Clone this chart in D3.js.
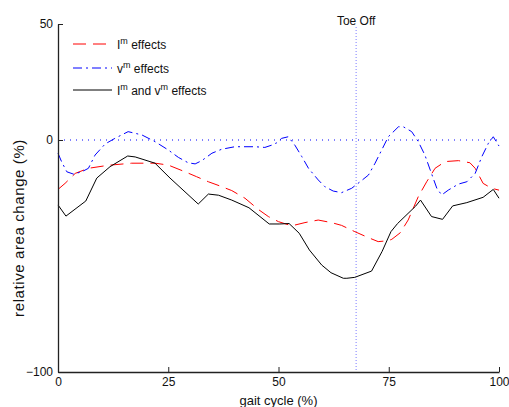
<!DOCTYPE html>
<html>
<head>
<meta charset="utf-8">
<script src="https://cdn.jsdelivr.net/npm/d3@7"></script>
<style>
  body { margin: 0; background: #fff; }
  text { font-family: "Liberation Sans", Arial, sans-serif; }
</style>
</head>
<body>
<div id="chart"></div>
<script>
// gait cycle (%) and relative area change (%)
var gaitIm = [0, 1.6, 3.9, 6.9, 11.4, 16.7, 22, 25, 28.8, 31.4, 34.1, 36.7, 39.4, 42.4, 45.4, 47.7, 50, 53, 56, 59, 62, 64.3, 67.3, 70.4, 72.6, 74.9, 75.7, 77.6, 79.4, 81.7, 83.6, 85.5, 87.8, 90.8, 93.4, 94.6, 96.4, 98.3, 100];
var areaIm = [-21.3, -18.7, -14.4, -12.2, -10.9, -10, -10, -10.8, -13.7, -15.8, -18, -19.8, -21.8, -25.1, -29.9, -33, -35.2, -37, -35.6, -34.5, -35.6, -36.8, -39.5, -42.1, -43.8, -43.4, -42.8, -40, -34.5, -24.4, -18, -12.2, -9.3, -8.9, -9.8, -12.2, -18.7, -20.8, -21.6];

var gaitVm = [0, 0.8, 2, 3.5, 5.4, 6.9, 8.4, 10.7, 12.9, 15.9, 19, 22, 25, 27.3, 29.5, 31.1, 32.6, 34.9, 37.1, 40.1, 44.7, 46.9, 48.5, 49.6, 50.7, 52.2, 53.7, 55.3, 56.8, 59, 60.5, 62.4, 64.3, 66.6, 68.5, 70.4, 71.9, 73.4, 74.9, 77.2, 78.3, 80.2, 81.7, 83.2, 84.4, 85.9, 87, 88.5, 90.8, 92.7, 94.6, 96.1, 97.6, 98.7, 100];
var areaVm = [-5.7, -9.3, -13.7, -14.7, -13.7, -12.2, -6.5, -1.7, 0.7, 3.6, 2.2, -0.7, -4.3, -7.5, -9.8, -10.3, -8.9, -5.7, -4, -2.9, -2.9, -3.2, -2.2, -1.2, 0.7, 1.4, -2.2, -7.2, -12.2, -17.2, -20.1, -22, -22.7, -20.8, -18, -15.1, -10, -4.3, 1.4, 5.7, 5.7, 3.6, -0.7, -6.5, -12.9, -20.8, -23.7, -21.6, -19, -18, -14.4, -7.2, -1.4, 1.4, -2.6];

var gaitBoth = [0, 1.8, 6.3, 8.8, 11.8, 15.8, 17.5, 22, 25.4, 31.8, 34.1, 36.4, 39.4, 43.3, 47.9, 50.3, 52.4, 54.7, 57, 59.8, 61.9, 64.7, 65.5, 67.3, 71.1, 73.5, 75.5, 77, 81.1, 82.2, 84.7, 87.2, 89.5, 92.7, 96.4, 98.7, 100];
var areaBoth = [-28, -32.8, -26.3, -16.4, -11.5, -6.9, -7.3, -10, -16.4, -27.6, -23.3, -23.8, -25.9, -29.2, -36.2, -36.2, -36, -40.2, -47.4, -53.9, -57.2, -59.6, -59.6, -59.2, -56.5, -48, -39.5, -36, -28.5, -25.9, -33, -34.2, -28.4, -27, -24.7, -21.3, -25.1];

var xTicks = [0, 25, 50, 75, 100];
var yTicks = [-100, 0, 50];
var toeOff = 67.6;

var width = 509, height = 407;

var svg = d3.select("#chart")
  .append("svg")
  .attr("width", width)
  .attr("height", height);

var x = d3.scaleLinear().domain([0, 100]).range([58, 499]);
var y = d3.scaleLinear().domain([-100, 50]).range([372, 24]);

// zero reference line
svg.append("line")
  .attr("x1", x(0)).attr("x2", x(100))
  .attr("y1", y(0)).attr("y2", y(0))
  .attr("stroke", "#0000ff")
  .attr("stroke-width", 1)
  .attr("stroke-dasharray", "1,5");

// toe off marker
svg.append("line")
  .attr("x1", x(toeOff)).attr("x2", x(toeOff))
  .attr("y1", 27).attr("y2", y(-100))
  .attr("stroke", "#7b7bff")
  .attr("stroke-width", 1)
  .attr("stroke-dasharray", "1,2");

svg.append("text")
  .attr("x", x(toeOff))
  .attr("y", 25)
  .attr("text-anchor", "middle")
  .style("font-size", "12px")
  .attr("fill", "#111")
  .text("Toe Off");

var line = d3.line()
  .x(function(d) { return x(d[0]); })
  .y(function(d) { return y(d[1]); });

function pairs(a, b) {
  return a.map(function(v, i) { return [v, b[i]]; });
}

svg.append("path")
  .datum(pairs(gaitIm, areaIm))
  .attr("d", line)
  .attr("fill", "none")
  .attr("stroke", "#ff0000")
  .attr("stroke-width", 1)
  .attr("stroke-dasharray", "13,7");

svg.append("path")
  .datum(pairs(gaitVm, areaVm))
  .attr("d", line)
  .attr("fill", "none")
  .attr("stroke", "#0000ff")
  .attr("stroke-width", 1)
  .attr("stroke-dasharray", "9,4,2,4");

svg.append("path")
  .datum(pairs(gaitBoth, areaBoth))
  .attr("d", line)
  .attr("fill", "none")
  .attr("stroke", "#000")
  .attr("stroke-width", 1);

// axes
var xAxis = svg.append("g")
  .attr("transform", "translate(0," + y(-100) + ")")
  .call(d3.axisBottom(x).tickValues(xTicks).tickSizeInner(-5).tickSizeOuter(0).tickPadding(5));

var yAxis = svg.append("g")
  .attr("transform", "translate(" + x(0) + ",0)")
  .call(d3.axisLeft(y).tickValues(yTicks).tickSizeInner(-5).tickSizeOuter(0).tickPadding(5));

[xAxis, yAxis].forEach(function(g) {
  g.select(".domain").attr("stroke", "#222").attr("stroke-width", 1.3);
  g.selectAll(".tick line").attr("stroke", "#222");
  g.selectAll(".tick text")
    .style("font-family", "'Liberation Sans', Arial, sans-serif")
    .style("font-size", "12px")
    .attr("fill", "#111");
});

// axis titles
svg.append("text")
  .attr("x", x(50))
  .attr("y", 405)
  .attr("text-anchor", "middle")
  .style("font-size", "13px")
  .attr("fill", "#111")
  .text("gait cycle (%)");

svg.append("text")
  .attr("transform", "translate(24,228) rotate(-90)")
  .attr("text-anchor", "middle")
  .style("font-size", "15px")
  .style("letter-spacing", "0.6px")
  .attr("fill", "#111")
  .text("relative area change (%)");

// legend
var legend = [
  {base: "I", sup: "m", rest: " effects", color: "#ff0000", dash: "13,7"},
  {base: "v", sup: "m", rest: " effects", color: "#0000ff", dash: "9,4,2,4"},
  {base: "I", sup: "m", rest: " and v", sup2: "m", rest2: " effects", color: "#000", dash: null}
];
var legendY = [44, 68, 90];

legend.forEach(function(d, i) {
  var ly = legendY[i];
  svg.append("line")
    .attr("x1", 73).attr("x2", 112)
    .attr("y1", ly).attr("y2", ly)
    .attr("stroke", d.color)
    .attr("stroke-width", 1)
    .attr("stroke-dasharray", d.dash);
  var t = svg.append("text")
    .attr("x", 117)
    .attr("y", ly + 5)
    .style("font-size", "12px")
    .attr("fill", "#111");
  t.append("tspan").text(d.base);
  t.append("tspan").attr("dy", -5).style("font-size", "9px").text(d.sup);
  t.append("tspan").attr("dy", 5).text(d.rest);
  if (d.sup2) {
    t.append("tspan").attr("dy", -5).style("font-size", "9px").text(d.sup2);
    t.append("tspan").attr("dy", 5).text(d.rest2);
  }
});
</script>
</body>
</html>
